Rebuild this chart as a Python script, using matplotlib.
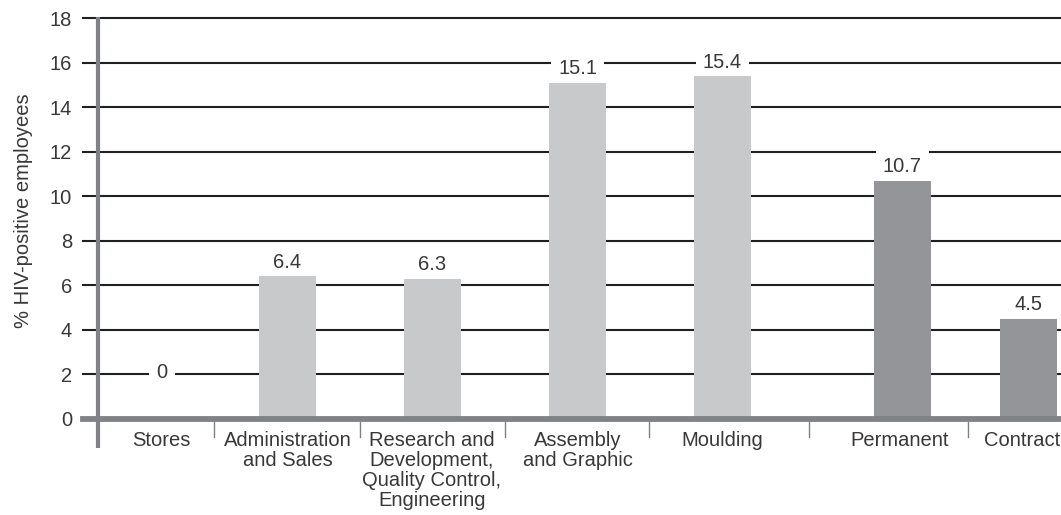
import matplotlib
matplotlib.use("Agg")
import matplotlib.pyplot as plt

# Data
categories = ["Stores", "Administration\nand Sales",
              "Research and\nDevelopment,\nQuality Control,\nEngineering",
              "Assembly\nand Graphic", "Moulding", "Permanent", "Contract"]
values = [0, 6.4, 6.3, 15.1, 15.4, 10.7, 4.5]
value_labels = ["0", "6.4", "6.3", "15.1", "15.4", "10.7", "4.5"]
y_ticks = [0, 2, 4, 6, 8, 10, 12, 14, 16, 18]

# Layout (horizontal positions in axis units)
bar_x = [162, 287.5, 432.5, 577.5, 722.5, 902.5, 1028.5]
label_x = [161, 288, 432, 578, 722, 900, 1022]
separators = [214, 360, 505, 649, 809, 968]
bar_colors = ["#c8c9cb"] * 5 + ["#939598"] * 2

W, H = 1061, 515
TEXT = "#383838"
AXIS = "#818285"
plt.rcParams["font.family"] = ["Liberation Sans", "DejaVu Sans"]

fig = plt.figure(figsize=(W / 100, H / 100), dpi=100)
ax = fig.add_axes([83 / W, (H - 419) / H, 1 - 83 / W, (419 - 18) / H])
ax.set_xlim(83, 1061)
ax.set_ylim(0, 18)
for s in ax.spines.values():
    s.set_visible(False)

# Horizontal gridlines
for t in y_ticks[1:]:
    ax.axhline(t, color="#231f20", lw=1.5, zorder=1, clip_on=False)

ax.bar(bar_x, values, width=57, color=bar_colors, zorder=3)

# Baseline and vertical axis
ax.axhline(0, color=AXIS, lw=4.2, zorder=4, clip_on=False)
ax.plot([98, 98], [-1.3, 18.05], color=AXIS, lw=3, zorder=4,
        clip_on=False, solid_capstyle="butt")
for sx in separators:
    ax.plot([sx, sx], [-0.12, -0.8], color=AXIS, lw=1.0, zorder=4,
            clip_on=False)

# Value labels: white boxes break the gridlines, bars stay on top
for x, v, lab in zip(bar_x, values, value_labels):
    y = v if v > 0 else 1.45
    ax.annotate(lab, (x, y), xytext=(0, 10), textcoords="offset points",
                ha="center", va="center", fontsize=14.5, color=TEXT,
                zorder=2,
                bbox=dict(boxstyle="square,pad=0.35", fc="white", ec="none"))

ax.set_yticks(y_ticks)
ax.set_yticklabels([str(t) for t in y_ticks], fontsize=14.5, color=TEXT)
ax.set_xticks(label_x)
ax.set_xticklabels(categories, fontsize=14.5, color=TEXT, linespacing=1.05)
ax.tick_params(axis="y", length=0, pad=8)
ax.tick_params(axis="x", length=0, pad=9)

ax.set_ylabel("% HIV-positive employees", fontsize=14.5, color=TEXT)
ax.yaxis.set_label_coords(-50 / (W - 83), 0.52)

fig.savefig("out.png", dpi=100)
